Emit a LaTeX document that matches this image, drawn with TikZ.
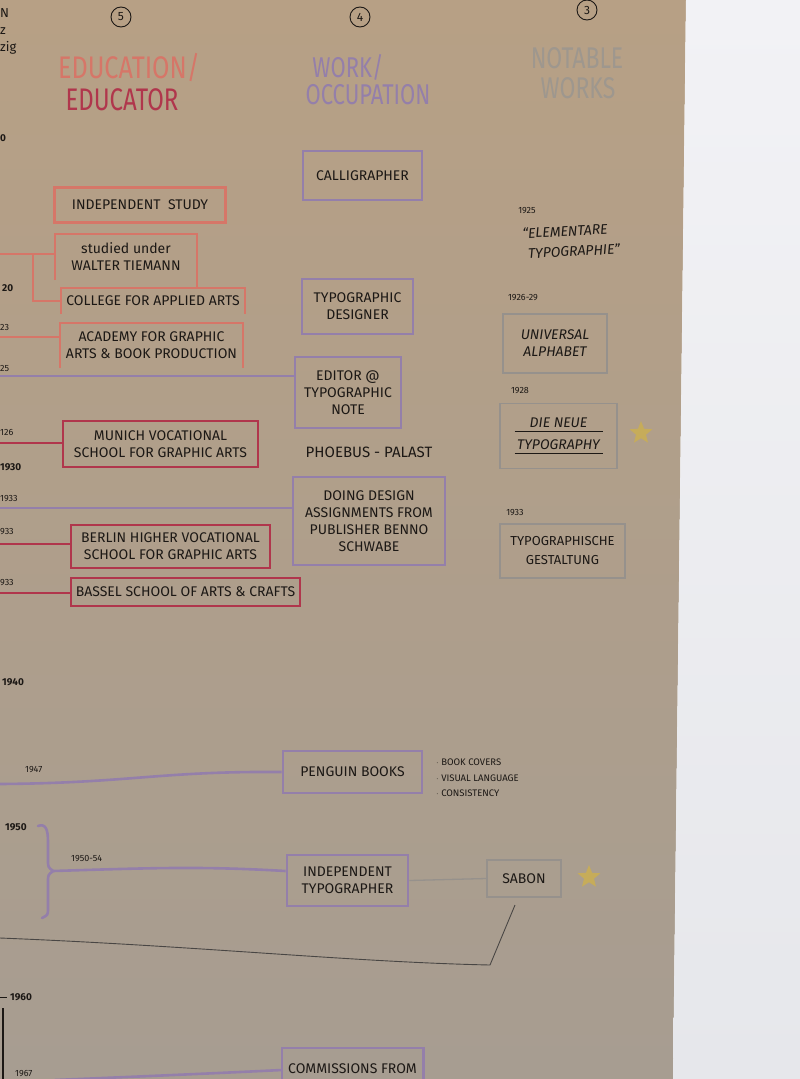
\documentclass[tikz,border=0pt]{standalone}
\usepackage{fontspec}
\usepackage{graphicx}
\setmainfont{Fira Sans}
\usetikzlibrary{shapes.geometric}
\definecolor{ink}{RGB}{28,24,21}
\definecolor{salmon}{RGB}{214,118,104}
\definecolor{crimson}{RGB}{176,54,76}
\definecolor{lav}{RGB}{148,127,170}
\definecolor{notegrey}{RGB}{150,145,140}
\definecolor{notehead}{RGB}{158,151,142}
\definecolor{papertop}{RGB}{183,160,133}
\definecolor{paperbot}{RGB}{167,157,145}
\definecolor{walltop}{RGB}{242,242,245}
\definecolor{wallbot}{RGB}{230,231,235}
\definecolor{starcol}{RGB}{198,172,90}
\newcommand\boxfont{\fontsize{14}{17}\selectfont}
\newcommand\smallyr{\fontsize{9}{9}\selectfont}
\newcommand\boldyr{\bfseries\fontsize{10}{10}\selectfont}
\begin{document}
\begin{tikzpicture}[x=1pt,y=-1pt,
  txt/.style={inner sep=0pt, align=center, text=ink, font=\boxfont},
  bx/.style={txt, rectangle},
  edu/.style={bx, draw=salmon, line width=2.4pt},
  eduline/.style={draw=salmon, line width=2.4pt},
  tch/.style={bx, draw=crimson, line width=2.3pt},
  tchline/.style={draw=crimson, line width=2.3pt},
  work/.style={bx, draw=lav, line width=2.8pt},
  workline/.style={draw=lav, line width=2.6pt},
  note/.style={bx, draw=notegrey, line width=1.3pt},
  noteline/.style={draw=notegrey, line width=1.3pt},
  yr/.style={inner sep=0pt, text=ink, font=\smallyr},
  byr/.style={inner sep=0pt, text=ink, font=\boldyr},
  num/.style={circle, draw=ink, line width=0.9pt, minimum size=20pt, inner sep=0pt, text=ink, font=\fontsize{12}{12}\selectfont},
  stargl/.style={star, star points=5, star point ratio=2.3, fill=starcol, minimum size=24pt, inner sep=0pt}
]
\useasboundingbox (0,0) rectangle (800,1079);
% background
\shade[top color=papertop, bottom color=paperbot] (0,0) -- (686,0) -- (673,1079) -- (0,1079) -- cycle;
\shade[top color=walltop, bottom color=wallbot] (686,0) -- (800,0) -- (800,1079) -- (673,1079) -- cycle;
\clip (0,0) rectangle (800,1079);

% column numbers and headers
\node[num] (c5) at (121,17) {5};
\node[num] (c4) at (360,17) {4};
\node[num] (c3) at (587,10) {3};
\node[inner sep=0pt, text=salmon, font=\fontsize{24}{24}\selectfont] (h5a) at (129,68) {\scalebox{1.05}[1.3]{EDUCATION/}};
\node[inner sep=0pt, text=crimson, font=\fontsize{24}{24}\selectfont] (h5b) at (122,100) {\scalebox{1}[1.3]{EDUCATOR}};
\node[inner sep=0pt, text=lav, font=\fontsize{22}{22}\selectfont] (h4a) at (348,67) {\scalebox{1}[1.3]{WORK/}};
\node[inner sep=0pt, text=lav, font=\fontsize{22}{22}\selectfont] (h4b) at (368,95) {\scalebox{1}[1.3]{OCCUPATION}};
\node[inner sep=0pt, text=notehead, font=\fontsize{23}{23}\selectfont] (h3a) at (577,58) {\scalebox{1}[1.3]{NOTABLE}};
\node[inner sep=0pt, text=notehead, font=\fontsize{23}{23}\selectfont] (h3b) at (578,88) {\scalebox{1}[1.3]{WORKS}};

% left edge fragments
\node[inner sep=0pt, text=ink, font=\fontsize{13}{13}\selectfont, anchor=west] (f1) at (0,13) {N};
\node[inner sep=0pt, text=ink, font=\fontsize{13}{13}\selectfont, anchor=west] (f2) at (0,31) {z};
\node[inner sep=0pt, text=ink, font=\fontsize{13}{13}\selectfont, anchor=west] (f3) at (0,48) {zig};
\node[byr, anchor=west] (y0) at (0,138) {0};
\node[byr, anchor=west] (y20) at (2,288) {20};
\node[yr, anchor=west] (y23) at (0,327) {23};
\node[yr, anchor=west] (y25) at (0,368) {25};
\node[yr, anchor=west] (y26) at (0,432) {126};
\node[byr, anchor=west] (y30) at (0,467) {1930};
\node[yr, anchor=west] (y33a) at (0,499) {1933};
\node[yr, anchor=west] (y33b) at (0,532) {933};
\node[yr, anchor=west] (y33c) at (0,583) {933};
\node[byr, anchor=west] (y40) at (2,682) {1940};
\node[yr, anchor=west] (y47) at (25,770) {1947};
\node[byr, anchor=west] (y50) at (5,827) {1950};
\node[yr, anchor=west] (y5054) at (71,859) {1950-54};
\node[byr, anchor=west] (y60) at (10,997) {1960};
\node[yr, anchor=west] (y67) at (15,1074) {1967};
\coordinate (tk1) at (0,997);
\coordinate (tk2) at (7,997);
\draw[ink, line width=1pt] (tk1) -- (tk2);
\coordinate (vl1) at (3,1008);
\coordinate (vl2) at (3,1079);
\draw[ink, line width=2pt] (vl1) -- (vl2);

% ---- education (salmon)
\node[edu, minimum width=171pt, minimum height=35pt] (indep) at (140,205) {INDEPENDENT \ STUDY};
\node[bx, minimum width=142pt, minimum height=46pt] (tiemann) at (126,257) {studied under\\WALTER TIEMANN};
\draw[eduline] (tiemann.south west) -- (tiemann.north west) -- (tiemann.north east) -- ([yshift=-7pt]tiemann.south east);
\node[bx, minimum width=184pt, minimum height=26pt] (college) at (153,301) {COLLEGE FOR APPLIED ARTS};
\draw[eduline] (college.south west) -- (college.north west) -- (college.north east) -- (college.south east);
\node[bx, minimum width=183pt, minimum height=45pt] (academy) at (151.5,345.5) {ACADEMY FOR GRAPHIC\\ARTS \& BOOK PRODUCTION};
\draw[eduline] (academy.south west) -- (academy.north west) -- (academy.north east) -- (academy.south east);
\coordinate (e1) at (0,254);
\coordinate (b1) at (33,254);
\draw[eduline] (e1) -- (e1 -| tiemann.west);
\draw[eduline] (b1) |- (college.west);
\coordinate (e2) at (0,337);
\draw[eduline] (e2) -- (e2 -| academy.west);

% ---- educator (crimson)
\node[tch, minimum width=195pt, minimum height=46pt] (munich) at (160.5,444) {MUNICH VOCATIONAL\\SCHOOL FOR GRAPHIC ARTS};
\node[tch, minimum width=199pt, minimum height=43pt] (berlin) at (170.5,546.5) {BERLIN HIGHER VOCATIONAL\\SCHOOL FOR GRAPHIC ARTS};
\node[tch, minimum width=229pt, minimum height=28pt] (bassel) at (185.5,592) {BASSEL SCHOOL OF ARTS \& CRAFTS};
\coordinate (c1) at (0,443);
\coordinate (c2) at (0,544);
\coordinate (c3) at (0,593);
\draw[tchline] (c1) -- (c1 -| munich.west);
\draw[tchline] (c2) -- (c2 -| berlin.west);
\draw[tchline] (c3) -- (c3 -| bassel.west);

% ---- work (lavender)
\node[work, minimum width=119pt, minimum height=49pt] (callig) at (362.5,175.5) {CALLIGRAPHER};
\node[work, minimum width=111pt, minimum height=55pt] (typdes) at (357.5,306.5) {TYPOGRAPHIC\\DESIGNER};
\node[work, minimum width=106pt, minimum height=71pt] (editor) at (348,392.5) {EDITOR @\\TYPOGRAPHIC\\NOTE};
\node[txt, font=\fontsize{15}{15}\selectfont] (phoebus) at (369,452) {PHOEBUS - PALAST};
\node[work, minimum width=152pt, minimum height=88pt] (doing) at (369,521) {DOING DESIGN\\ASSIGNMENTS FROM\\PUBLISHER BENNO\\SCHWABE};
\node[work, minimum width=139pt, minimum height=42pt] (penguin) at (352.5,772) {PENGUIN BOOKS};
\node[txt, align=left, anchor=west, font=\fontsize{9.5}{15.5}\selectfont] (pnotes) at (436,778) {$\cdot$ BOOK COVERS\\$\cdot$ VISUAL LANGUAGE\\$\cdot$ CONSISTENCY};
\node[work, minimum width=121pt, minimum height=51pt] (typog) at (347.5,880.5) {INDEPENDENT\\TYPOGRAPHER};
\node[bx, minimum width=141pt, minimum height=44pt] (comm) at (352.5,1070) {};
\node[txt] (commtxt) at (352.5,1069) {COMMISSIONS FROM};
\draw[workline] (comm.south west) -- (comm.north west) -- (comm.north east) -- (comm.south east);

\coordinate (w1) at (0,376);
\draw[workline] (w1) -- (w1 -| editor.west);
\coordinate (w2) at (0,508);
\draw[workline] (w2) -- (w2 -| doing.west);
\coordinate (w3) at (0,784);
\draw[workline] (w3) .. controls (130,783) and (160,771) .. (penguin.west);
% brace
\coordinate (br1) at (38,826);
\coordinate (w4) at (53,871);
\coordinate (br2) at (42,918);
\draw[workline, line cap=round] (br1) .. controls (46,823) and (48,830) .. (48,842) -- (48,860) .. controls (48,867) .. (w4) .. controls (48,875) .. (48,882) -- (48,908) .. controls (48,915) .. (br2);
\draw[workline] (w4) .. controls (150,868) and (200,866) .. (w4 -| typog.west);
\coordinate (w5) at (55,1080);
\draw[workline] (w5) .. controls (150,1076) and (200,1074) .. (comm.west);

% ---- notable works (grey)
\node[yr] (n1925) at (527,211) {1925};
\node[txt, rotate=3, font=\itshape\fontsize{14}{14}\selectfont] (elem1) at (565,231) {“ELEMENTARE};
\node[txt, rotate=3, font=\itshape\fontsize{14}{14}\selectfont] (elem2) at (574,251) {TYPOGRAPHIE”};
\node[yr] (n1926) at (523,298) {1926-29};
\node[note, minimum width=104pt, minimum height=59pt, font=\itshape\boxfont] (univ) at (555,343.5) {UNIVERSAL\\ALPHABET};
\node[yr] (n1928) at (520,391) {1928};
\node[note, minimum width=117pt, minimum height=65pt, font=\itshape\boxfont] (neue) at (558.5,436) {DIE NEUE\\[-12pt]\rule{88pt}{1.3pt}\\TYPOGRAPHY\\[-12pt]\rule{88pt}{1.3pt}};
\node[stargl] (star1) at (641,433) {};
\node[yr] (n1933) at (515,513) {1933};
\node[note, minimum width=125pt, minimum height=54pt, font=\fontsize{13}{19}\selectfont] (gest) at (562.5,551) {TYPOGRAPHISCHE\\GESTALTUNG};
\node[note, minimum width=74pt, minimum height=37pt] (sabon) at (524,878.5) {SABON};
\node[stargl] (star2) at (589,877) {};
\draw[noteline] (typog.east) -- (sabon.west);
\coordinate (t0) at (0,938);
\coordinate (t1) at (490,965);
\coordinate (t2) at (515,905);
\draw[ink!80, line width=0.9pt] (t0) .. controls (200,946) and (350,962) .. (t1) -- (t2);
\end{tikzpicture}
\end{document}
